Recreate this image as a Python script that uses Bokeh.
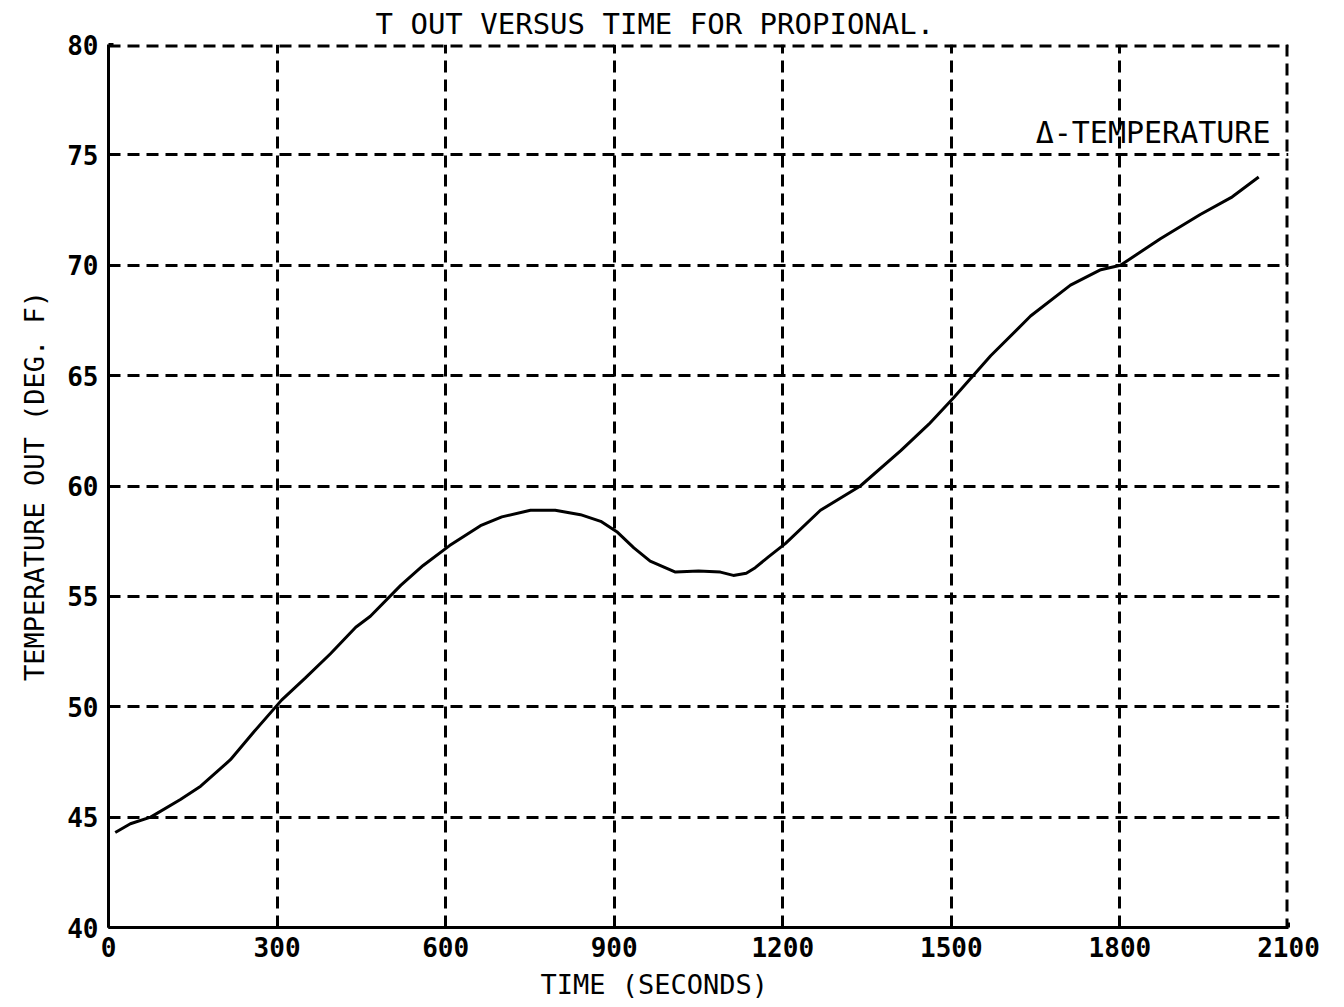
from bokeh.plotting import figure
from bokeh.models import Range1d, FixedTicker, Title, Span
from bokeh.core.properties import value
from bokeh.embed import file_html
from bokeh.resources import INLINE

# Data
time_s = [12, 39, 75, 128, 164, 217, 260, 308, 350, 395, 440, 466, 520, 560, 607,
          662, 700, 751, 795, 840, 876, 906, 935, 964, 1009, 1050, 1089, 1112,
          1135, 1151, 1175, 1205, 1267, 1338, 1410, 1460, 1504, 1570, 1641, 1712,
          1766, 1801, 1872, 1943, 2000, 2047]
temp_f = [44.3, 44.7, 45.0, 45.8, 46.4, 47.6, 48.9, 50.3, 51.3, 52.4, 53.6, 54.1,
          55.5, 56.4, 57.3, 58.2, 58.6, 58.9, 58.9, 58.7, 58.4, 57.9, 57.2, 56.6,
          56.1, 56.15, 56.1, 55.95, 56.05, 56.3, 56.8, 57.4, 58.9, 60.0, 61.6,
          62.8, 64.0, 65.9, 67.7, 69.1, 69.8, 70.0, 71.2, 72.3, 73.1, 74.0]
x_ticks = [0, 300, 600, 900, 1200, 1500, 1800, 2100]
y_ticks = [40, 45, 50, 55, 60, 65, 70, 75, 80]
legend_text = ["Δ-TEMPERATURE"]
legend_x = [1650]
legend_y = [75.2]

MONO = "DejaVu Sans Mono"

p = figure(width=1336, height=1006, output_backend="svg", toolbar_location=None,
           x_range=Range1d(0, 2100), y_range=Range1d(40, 80),
           min_border_left=108, min_border_right=48, min_border_top=44,
           min_border_bottom=79)
p.outline_line_color = None
p.background_fill_color = "white"
p.border_fill_color = "white"

p.title = Title(text="T OUT VERSUS TIME FOR PROPIONAL.", align="left", offset=267,
                text_font=MONO, text_font_size="29px", text_font_style="normal",
                text_color="black", standoff=7)

for ax in (p.xaxis[0], p.yaxis[0]):
    ax.axis_line_color = "black"
    ax.axis_line_width = 3
    ax.major_tick_line_color = "black"
    ax.major_tick_line_width = 3
    ax.major_tick_in = 5
    ax.major_tick_out = 0
    ax.minor_tick_line_color = None
    ax.major_label_text_font = MONO
    ax.major_label_text_font_style = "bold"
    ax.major_label_text_font_size = "26px"
    ax.major_label_text_color = "black"
    ax.axis_label_text_font = MONO
    ax.axis_label_text_font_style = "normal"
    ax.axis_label_text_font_size = "27px"
    ax.axis_label_text_color = "black"

p.xaxis.ticker = FixedTicker(ticks=x_ticks)
p.yaxis.ticker = FixedTicker(ticks=y_ticks)
p.yaxis.axis_label = "TEMPERATURE OUT (DEG. F)"
p.xaxis.major_label_standoff = 9
p.yaxis.major_label_standoff = 10
p.yaxis.axis_label_standoff = 14

p.add_layout(Title(text="TIME (SECONDS)", align="left", offset=432,
                   text_font=MONO, text_font_size="27px", text_font_style="normal",
                   text_color="black", standoff=14), "below")

for g in (p.xgrid[0], p.ygrid[0]):
    g.grid_line_color = "black"
    g.grid_line_width = 3
    g.grid_line_dash = "12 7"
    g.grid_line_alpha = 1.0

# dashed frame edges at 80 and 2100 (grid lines at the range limits)
p.add_layout(Span(location=y_ticks[-1], dimension="width", line_color="black",
                  line_width=6, line_dash="12 7"))
p.add_layout(Span(location=x_ticks[-1], dimension="height", line_color="black",
                  line_width=6, line_dash="12 7"))

p.line(time_s, temp_f, line_color="black", line_width=3)

p.text(x=legend_x, y=legend_y, text=legend_text, text_font=value(MONO),
       text_font_size="30px", text_color="black", text_baseline="bottom",
       text_align="left")

open("out.html", "w").write(file_html(p, INLINE))
